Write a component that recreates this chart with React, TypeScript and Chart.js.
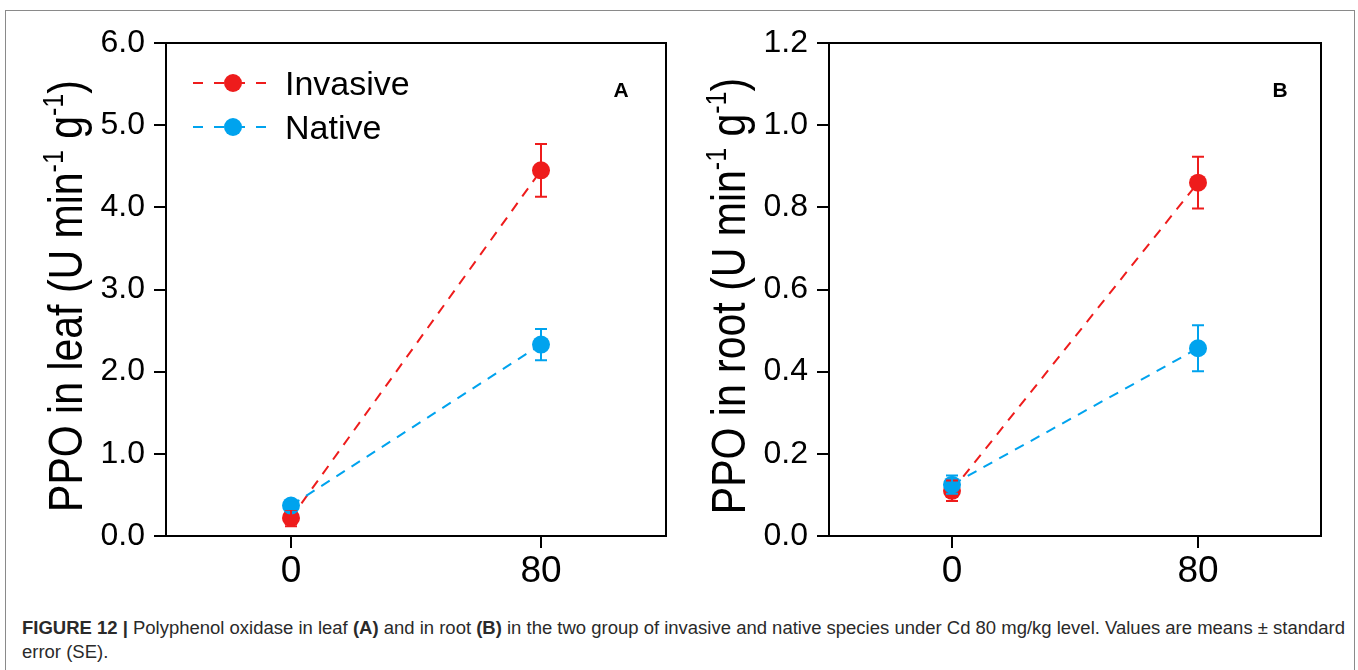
import React, { useEffect, useLayoutEffect, useRef } from 'react';
import { Chart, registerables } from 'chart.js';

Chart.register(...registerables);

// ---------- data ----------
const doses = [0, 80];
const xTickValues = [0, 80];
const seriesNames = ['Invasive', 'Native'];

const leafInvasive = [0.22, 4.45];
const leafInvasiveSE = [0.1, 0.32];
const leafNative = [0.37, 2.33];
const leafNativeSE = [0.04, 0.19];
const leafYTicks = [0, 1, 2, 3, 4, 5, 6];

const rootInvasive = [0.11, 0.86];
const rootInvasiveSE = [0.025, 0.063];
const rootNative = [0.125, 0.457];
const rootNativeSE = [0.022, 0.056];
const rootYTicks = [0, 0.2, 0.4, 0.6, 0.8, 1.0, 1.2];

const RED = '#EE1C1C';
const BLUE = '#00A3EE';
const FONT = '"Liberation Sans", Arial, sans-serif';

type PanelOpts = {
  inv: number[]; invSE: number[]; nat: number[]; natSE: number[];
  yTicks: number[]; yMax: number;
  titleMain: string; panel: string; panelX: number;
  showLegend: boolean; yWidth: number; padRight: number; titleX: number;
};

const panelPlugin = {
  id: 'panelPlugin',
  afterDatasetsDraw(chart: any) {
    const ctx = chart.ctx;
    const ys = chart.scales.y;
    chart.data.datasets.forEach((ds: any, di: number) => {
      const meta = chart.getDatasetMeta(di);
      ctx.save();
      ctx.strokeStyle = ds.borderColor;
      ctx.lineWidth = 2;
      ctx.setLineDash([]);
      meta.data.forEach((pt: any, i: number) => {
        const v = ds.data[i].y;
        const e = ds.errors[i];
        const yTop = ys.getPixelForValue(v + e);
        const yBot = ys.getPixelForValue(v - e);
        const x = pt.x;
        ctx.beginPath();
        ctx.moveTo(x, yTop); ctx.lineTo(x, yBot);
        ctx.moveTo(x - 6, yTop); ctx.lineTo(x + 6, yTop);
        ctx.moveTo(x - 6, yBot); ctx.lineTo(x + 6, yBot);
        ctx.stroke();
      });
      ctx.restore();
    });
  },
  afterDraw(chart: any) {
    const ctx = chart.ctx;
    const o = chart.options.plugins.panelPlugin;
    const a = chart.chartArea;
    ctx.save();
    ctx.strokeStyle = '#000';
    ctx.lineWidth = 2;
    ctx.beginPath();
    ctx.moveTo(a.left, a.top);
    ctx.lineTo(a.right, a.top);
    ctx.lineTo(a.right, a.bottom);
    ctx.stroke();

    ctx.fillStyle = '#000';
    ctx.font = `bold 21px ${FONT}`;
    ctx.textAlign = 'center';
    ctx.textBaseline = 'alphabetic';
    ctx.fillText(o.panel, o.panelX, 97);

    if (o.showLegend) {
      chart.data.datasets
        .slice()
        .sort((p: any, q: any) => p.legendIndex - q.legendIndex)
        .forEach((ds: any, k: number) => {
          const cy = 83 + k * 44;
          ctx.save();
          ctx.strokeStyle = ds.borderColor;
          ctx.lineWidth = 2;
          ctx.setLineDash([10, 11]);
          ctx.beginPath();
          ctx.moveTo(193, cy); ctx.lineTo(272, cy);
          ctx.stroke();
          ctx.setLineDash([]);
          ctx.fillStyle = ds.borderColor;
          ctx.beginPath();
          ctx.arc(233, cy, 9, 0, Math.PI * 2);
          ctx.fill();
          ctx.restore();
          ctx.fillStyle = '#000';
          ctx.font = `34px ${FONT}`;
          ctx.textAlign = 'left';
          ctx.textBaseline = 'alphabetic';
          ctx.fillText(ds.label, 285, cy + 12);
        });
    }

    const segs: [string, boolean][] = [
      [o.titleMain + ' (U min', false], ['-1', true], [' g', false], ['-1', true], [')', false],
    ];
    const mainFont = `41px ${FONT}`;
    const supFont = `25px ${FONT}`;
    let total = 0;
    segs.forEach(([t, sup]) => {
      ctx.font = sup ? supFont : mainFont;
      total += ctx.measureText(t).width;
    });
    ctx.translate(o.titleX, 296);
    ctx.rotate(-Math.PI / 2);
    ctx.scale(1, 1.16);
    ctx.fillStyle = '#000';
    ctx.textAlign = 'left';
    ctx.textBaseline = 'alphabetic';
    let x = -total / 2;
    segs.forEach(([t, sup]) => {
      ctx.font = sup ? supFont : mainFont;
      ctx.fillText(t, x, sup ? -16 : 0);
      x += ctx.measureText(t).width;
    });
    ctx.restore();
  },
};

function makeConfig(o: PanelOpts): any {
  const mk = (label: string, vals: number[], se: number[], color: string, order: number, legendIndex: number) => ({
    label,
    data: doses.map((d, i) => ({ x: d, y: vals[i] })),
    errors: se,
    legendIndex,
    order,
    borderColor: color,
    backgroundColor: color,
    borderDash: [10, 8],
    borderWidth: 2,
    pointRadius: 9,
    pointHoverRadius: 9,
    pointBorderWidth: 0,
    pointBackgroundColor: color,
    showLine: true,
    fill: false,
    tension: 0,
  });
  const gridCfg = {
    drawOnChartArea: false,
    drawTicks: true,
    tickLength: 12,
    color: '#000',
    lineWidth: 2,
  };
  return {
    type: 'line',
    data: {
      datasets: [
        mk(seriesNames[0], o.inv, o.invSE, RED, 1, 0),
        mk(seriesNames[1], o.nat, o.natSE, BLUE, 0, 1),
      ],
    },
    plugins: [panelPlugin],
    options: {
      animation: false,
      responsive: false,
      devicePixelRatio: 1,
      events: [],
      layout: { padding: { top: 43, right: o.padRight, left: 0, bottom: 0 } },
      plugins: {
        legend: { display: false },
        tooltip: { enabled: false },
        panelPlugin: o,
      },
      scales: {
        x: {
          type: 'linear',
          min: -40,
          max: 120,
          afterBuildTicks: (s: any) => { s.ticks = xTickValues.map((v) => ({ value: v })); },
          afterFit: (s: any) => { s.height = 64; },
          ticks: {
            color: '#000',
            font: { family: FONT, size: 37 },
            padding: 2,
            maxRotation: 0,
            autoSkip: false,
            callback: (v: any) => String(v),
          },
          grid: gridCfg,
          border: { display: true, color: '#000', width: 2 },
        },
        y: {
          type: 'linear',
          min: 0,
          max: o.yMax,
          afterBuildTicks: (s: any) => { s.ticks = o.yTicks.map((v) => ({ value: v })); },
          afterFit: (s: any) => { s.width = o.yWidth; },
          ticks: {
            color: '#000',
            font: { family: FONT, size: 32 },
            padding: 9,
            autoSkip: false,
            callback: (v: any) => Number(v).toFixed(1),
          },
          grid: gridCfg,
          border: { display: true, color: '#000', width: 2 },
        },
      },
    },
  };
}

function Panel({ opts, left, width }: { opts: PanelOpts; left: number; width: number }) {
  const ref = useRef<HTMLCanvasElement>(null);
  useEffect(() => {
    const chart = new Chart(ref.current as HTMLCanvasElement, makeConfig(opts));
    return () => chart.destroy();
  }, []);
  return (
    <canvas
      ref={ref}
      width={width}
      height={600}
      style={{ position: 'absolute', left, top: 0, width, height: 600 }}
    />
  );
}

const CAPTION_SCALE_REF = { s: 0 };

function FitLine({ children, top, target }: { children: any; top: number; target: number | null }) {
  const ref = useRef<HTMLSpanElement>(null);
  useLayoutEffect(() => {
    const el = ref.current;
    if (!el) return;
    const w = el.getBoundingClientRect().width;
    if (target) CAPTION_SCALE_REF.s = target / w;
    const s = CAPTION_SCALE_REF.s || 0.85;
    el.style.transform = `scaleX(${s})`;
  }, []);
  return (
    <span
      ref={ref}
      style={{
        position: 'absolute', left: 22, top, whiteSpace: 'nowrap', display: 'inline-block',
        transformOrigin: '0 0', fontFamily: FONT, fontSize: 17.5, lineHeight: '24px', color: '#2a2a2a',
      }}
    >
      {children}
    </span>
  );
}

export default function App() {
  const leafOpts: PanelOpts = {
    inv: leafInvasive, invSE: leafInvasiveSE, nat: leafNative, natSE: leafNativeSE,
    yTicks: leafYTicks, yMax: 6, titleMain: 'PPO in leaf', panel: 'A', panelX: 621,
    showLegend: true, yWidth: 166, padRight: 24, titleX: 82,
  };
  const rootOpts: PanelOpts = {
    inv: rootInvasive, invSE: rootInvasiveSE, nat: rootNative, natSE: rootNativeSE,
    yTicks: rootYTicks, yMax: 1.2, titleMain: 'PPO in root', panel: 'B', panelX: 600,
    showLegend: false, yWidth: 149, padRight: 37, titleX: 65,
  };
  return (
    <div style={{ position: 'fixed', left: 0, top: 0, width: 1358, height: 670, overflow: 'hidden', background: '#fff' }}>
      <div style={{ position: 'absolute', left: 5, top: 10, width: 1350, height: 720, border: '1.5px solid #8a8a8a', boxSizing: 'border-box' }} />
      <Panel opts={leafOpts} left={0} width={690} />
      <Panel opts={rootOpts} left={680} width={678} />
      <FitLine top={616} target={1323}>
        <b>FIGURE 12 |</b> Polyphenol oxidase in leaf <b>(A)</b> and in root <b>(B)</b> in the two group of invasive and native species under Cd 80 mg/kg level. Values are means ± standard
      </FitLine>
      <FitLine top={640} target={null}>error (SE).</FitLine>
    </div>
  );
}
